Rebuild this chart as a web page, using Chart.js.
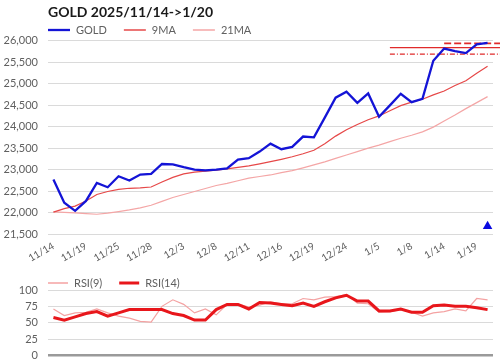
<!DOCTYPE html>
<html>
<head>
<meta charset="utf-8">
<script src="https://cdn.jsdelivr.net/npm/chart.js@4.4.1/dist/chart.umd.min.js"></script>
<style>
    html, body { margin: 0; padding: 0; background: #fff; overflow: hidden; }
    #wrap { position: relative; width: 500px; height: 361px; overflow: hidden; }
    #main { position: absolute; left: 0; top: 0; }
    #rsi { position: absolute; left: 0; top: 265px; }
</style>
</head>
<body>
<div id="wrap">
    <canvas id="main" width="500" height="282"></canvas>
    <canvas id="rsi" width="500" height="107"></canvas>
</div>
<script>
const dates = [
    "11/14", "11/17", "11/18", "11/19", "11/20", "11/21", "11/25", "11/26", "11/27", "11/28",
    "12/1", "12/2", "12/3", "12/4", "12/5", "12/8", "12/9", "12/10", "12/11", "12/12",
    "12/15", "12/16", "12/17", "12/18", "12/19", "12/22", "12/23", "12/24", "12/25", "12/26",
    "1/5", "1/6", "1/7", "1/8", "1/9", "1/13", "1/14", "1/15", "1/16", "1/19", "1/20"
];
const gold = [
    22770, 22230, 22040, 22270, 22690, 22590, 22845, 22745, 22885, 22900,
    23130, 23120, 23055, 23000, 22980, 23000, 23030, 23235, 23265, 23420,
    23605, 23475, 23530, 23770, 23750, 24210, 24675, 24815, 24555, 24775,
    24230, 24495, 24765, 24570, 24650, 25535, 25820, 25762, 25715, 25920, 25952
];
const ma9 = [
    22010, 22090, 22150, 22270, 22420, 22490, 22540, 22565, 22575, 22595,
    22710, 22820, 22900, 22940, 22965, 22990, 23015, 23050, 23085, 23135,
    23185, 23240, 23300, 23370, 23450, 23600, 23780, 23930, 24050, 24160,
    24250, 24370, 24490, 24570, 24640, 24740, 24830, 24960, 25070, 25245, 25410
];
const ma21 = [
    22015, 22005, 21990, 21975, 21960, 21985, 22020, 22060, 22110, 22170,
    22260, 22350, 22420, 22490, 22560, 22630, 22680, 22740, 22800, 22840,
    22875, 22930, 22975, 23040, 23110, 23180, 23260, 23340, 23420, 23500,
    23570, 23650, 23730, 23800, 23880, 23990, 24130, 24270, 24420, 24560, 24700
];
const signal = [
    null, null, null, null, null, null, null, null, null, null,
    null, null, null, null, null, null, null, null, null, null,
    null, null, null, null, null, null, null, null, null, null,
    null, null, null, null, null, null, null, null, null, null, 21680
];
const rsi9 = [
    71, 61, 65, 66, 71, 65, 60, 57, 52, 51,
    75, 85, 78, 65, 71, 62, 78, 79, 74, 77,
    82, 79, 79, 87, 85, 89, 90, 93, 80, 79,
    66, 67, 70, 66, 60, 65, 67, 71, 68, 87, 85
];
const rsi14 = [
    58, 54, 59, 64, 67, 60, 65, 70, 70, 70,
    70, 64, 61, 54, 54, 70, 78, 78, 71, 81,
    80, 78, 76, 80, 75, 82, 88, 92, 83, 83,
    68, 68, 71, 66, 66, 76, 77, 75, 75, 73, 70
];
// resistance / support levels and the index they start from
const levels = [25843, 25938, 25690];
const levelStart = [31, 36, 31];

const tickColor = "#606060";
const gridColor = "#dadada";
const font = "Lato";

// legend drawn as short line samples, left aligned with the plot
const lineLegend = {
    id: "lineLegend",
    afterDraw(chart, args, opts) {
        const {ctx, chartArea} = chart;
        let x = chartArea.left;
        ctx.save();
        ctx.font = "11px " + font;
        ctx.textBaseline = "middle";
        chart.data.datasets.forEach(ds => {
            if (!ds.label) return;
            ctx.strokeStyle = ds.borderColor;
            ctx.lineWidth = Math.max(ds.borderWidth, 1.5);
            ctx.beginPath();
            ctx.moveTo(x, opts.y);
            ctx.lineTo(x + opts.len, opts.y);
            ctx.stroke();
            ctx.fillStyle = tickColor;
            ctx.fillText(ds.label, x + opts.len + 6, opts.y);
            x += opts.len + 6 + ctx.measureText(ds.label).width + 17;
        });
        ctx.restore();
    }
};

const levelLines = {
    id: "levelLines",
    beforeDatasetsDraw(chart) {
        const {ctx, scales: {x, y}} = chart;
        const dashes = [[], [7, 3], [5, 2, 1, 2]];
        const widths = [1.3, 1.8, 1.3];
        ctx.save();
        ctx.strokeStyle = "#e02a2a";
        levels.forEach((v, i) => {
            const py = y.getPixelForValue(v);
            ctx.lineWidth = widths[i];
            ctx.setLineDash(dashes[i]);
            ctx.beginPath();
            ctx.moveTo(x.getPixelForValue(levelStart[i]), py);
            ctx.lineTo(chart.width, py);
            ctx.stroke();
        });
        ctx.restore();
    }
};

function lineSet(label, data, color, width) {
    return {
        label: label,
        data: data,
        borderColor: color,
        backgroundColor: color,
        borderWidth: width,
        pointRadius: 0,
        tension: 0
    };
}

new Chart(document.getElementById("main"), {
    type: "line",
    data: {
        labels: dates,
        datasets: [
            lineSet("GOLD", gold, "#1414d6", 2.3),
            lineSet("9MA", ma9, "#e64848", 1.2),
            lineSet("21MA", ma21, "#f4a6a6", 1.2),
            {
                data: signal,
                showLine: false,
                pointStyle: "triangle",
                pointRadius: 5.5,
                backgroundColor: "#0a0ae0",
                borderWidth: 0
            }
        ]
    },
    options: {
        responsive: false,
        animation: false,
        devicePixelRatio: 1,
        layout: { padding: { left: 0, right: 7, top: 0, bottom: 0 } },
        plugins: {
            legend: { display: false },
            tooltip: { enabled: false },
            title: {
                display: true,
                text: "GOLD 2025/11/14->1/20",
                align: "start",
                fullSize: false,
                color: "#1a1a1a",
                font: { family: font, size: 14, weight: "bold" },
                padding: { top: 4, bottom: 20 }
            },
            lineLegend: { y: 30, len: 22 }
        },
        scales: {
            x: {
                offset: true,
                grid: { display: false },
                border: { display: false },
                afterFit: s => { s.height = 48; },
                ticks: {
                    autoSkip: false,
                    minRotation: 30,
                    maxRotation: 30,
                    padding: -2,
                    color: tickColor,
                    font: { family: font, size: 10 },
                    callback: (v, i) => i % 3 === 0 ? dates[i] : ""
                }
            },
            y: {
                min: 21500,
                max: 26000,
                afterFit: s => { s.width = 48; },
                border: { display: false },
                grid: { color: gridColor, lineWidth: 1, drawTicks: false },
                ticks: {
                    stepSize: 500,
                    padding: 10,
                    color: tickColor,
                    font: { family: font, size: 11 },
                    callback: v => v.toLocaleString("en-US")
                }
            }
        }
    },
    plugins: [lineLegend, levelLines]
});

new Chart(document.getElementById("rsi"), {
    type: "line",
    data: {
        labels: dates,
        datasets: [
            Object.assign(lineSet("RSI(9)", rsi9, "#f4a2a2", 1.2), { order: 2 }),
            Object.assign(lineSet("RSI(14)", rsi14, "#e8161b", 3), { order: 1 })
        ]
    },
    options: {
        responsive: false,
        animation: false,
        devicePixelRatio: 1,
        layout: { padding: { left: 0, right: 7, top: 25, bottom: 0 } },
        plugins: {
            legend: { display: false },
            tooltip: { enabled: false },
            lineLegend: { y: 18, len: 20 }
        },
        scales: {
            x: { display: false, offset: true },
            y: {
                min: 0,
                max: 100,
                afterFit: s => { s.width = 48; },
                border: { display: false },
                grid: {
                    drawTicks: false,
                    color: c => c.tick.value === 0 ? "#9a9a9a" : gridColor,
                    lineWidth: c => c.tick.value === 0 ? 2.5 : 1
                },
                ticks: {
                    stepSize: 25,
                    padding: 10,
                    color: tickColor,
                    font: { family: font, size: 11 }
                }
            }
        }
    },
    plugins: [lineLegend]
});
</script>
</body>
</html>
